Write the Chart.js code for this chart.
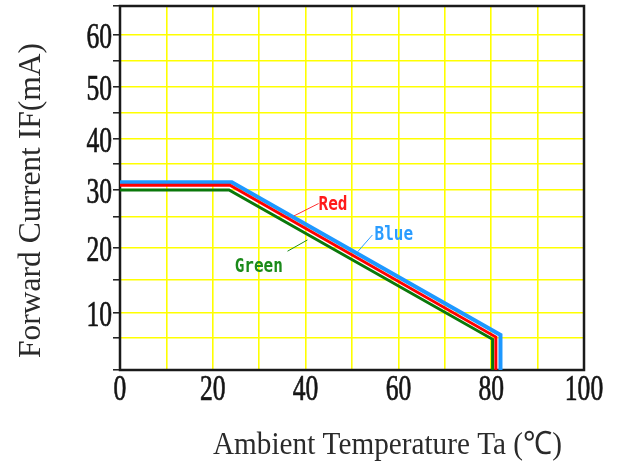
<!DOCTYPE html>
<html>
<head>
<meta charset="utf-8">
<script src="https://cdn.jsdelivr.net/npm/chart.js@4/dist/chart.umd.min.js"></script>
<style>
  html, body { margin: 0; padding: 0; background: #ffffff; }
  #wrap { width: 619px; height: 466px; position: relative; }
</style>
</head>
<body>
<div id="wrap"><canvas id="c" width="619" height="466"></canvas></div>
<script>
// ---------------- DATA ----------------
const xTickValues = [0, 20, 40, 60, 80, 100];
const yTickValues = [10, 20, 30, 40, 50, 60];

const seriesNames = ['Red', 'Blue', 'Green'];

const tempRed = [0, 23.7, 81.0, 81.0];
const currentRed = [30.9, 30.9, 5.2, 0];

const tempBlue = [0, 24.1, 82.0, 82.0];
const currentBlue = [31.5, 31.5, 5.6, 0];

const tempGreen = [0, 23.5, 80.3, 80.3];
const currentGreen = [30, 30, 4.8, 0];

// printed (non-uniform) y grid of the datasheet: grid values and relative spacing between them
const yGridValues = [0, 5, 10, 15, 20, 25, 30, 35, 40, 45, 50, 55, 60, 65];
const yGridSpans = [32, 25, 33, 32, 31, 27, 26, 25, 26, 26, 26, 26, 29];

const xTitle = 'Ambient Temperature Ta (\u2103)';
const yTitle = 'Forward Current IF(mA)';

// ---------------- custom piecewise-linear scale ----------------
const spanTotal = yGridSpans.reduce((a, b) => a + b, 0);
const yGridFracs = [0];
yGridSpans.forEach((s, i) => yGridFracs.push(yGridFracs[i] + s / spanTotal));

class PiecewiseScale extends Chart.LinearScale {
  _frac(v) {
    const n = yGridValues.length;
    if (v <= yGridValues[0]) return yGridFracs[0] + (v - yGridValues[0]) / (yGridValues[1] - yGridValues[0]) * (yGridFracs[1] - yGridFracs[0]);
    for (let i = 1; i < n; i++) {
      if (v <= yGridValues[i]) {
        const t = (v - yGridValues[i - 1]) / (yGridValues[i] - yGridValues[i - 1]);
        return yGridFracs[i - 1] + t * (yGridFracs[i] - yGridFracs[i - 1]);
      }
    }
    const t = (v - yGridValues[n - 2]) / (yGridValues[n - 1] - yGridValues[n - 2]);
    return yGridFracs[n - 2] + t * (yGridFracs[n - 1] - yGridFracs[n - 2]);
  }
  _inv(f) {
    const n = yGridFracs.length;
    for (let i = 1; i < n; i++) {
      if (f <= yGridFracs[i] || i === n - 1) {
        const t = (f - yGridFracs[i - 1]) / (yGridFracs[i] - yGridFracs[i - 1]);
        return yGridValues[i - 1] + t * (yGridValues[i] - yGridValues[i - 1]);
      }
    }
    return yGridValues[n - 1];
  }
  getPixelForValue(value) {
    if (value === null || value === undefined || isNaN(value)) return NaN;
    return this.getPixelForDecimal(this._frac(value));
  }
  getValueForPixel(pixel) {
    return this._inv(this.getDecimalForPixel(pixel));
  }
}
PiecewiseScale.id = 'piecewise';
PiecewiseScale.defaults = Chart.LinearScale.defaults;
Chart.register(PiecewiseScale);

const toPoints = (xs, ys) => xs.map((x, i) => ({ x: x, y: ys[i] }));

// ---------------- annotations (in data units) ----------------
const labelNotes = [
  { text: 'Red',   color: '#ff1a1a', at: [45.9, 26.3], lead: [[37.5, 25.2], [42.8, 27.5]], leadColor: '#ff3030' },
  { text: 'Blue',  color: '#2a9cff', at: [59.0, 21.3], lead: [[51.2, 19.4], [54.4, 22.1]], leadColor: '#2a9cff' },
  { text: 'Green', color: '#1a8a1a', at: [29.9, 16.3], lead: [[36.1, 19.5], [40.4, 21.3]], leadColor: '#1a8a1a' }
];

function condensedText(ctx, text, x, y, sx, align, rotate, strokeW) {
  ctx.save();
  ctx.translate(x, y);
  if (rotate) ctx.rotate(rotate);
  ctx.scale(sx, 1);
  ctx.textAlign = align;
  ctx.textBaseline = 'alphabetic';
  ctx.fillText(text, 0, 0);
  if (strokeW) {
    ctx.lineWidth = strokeW;
    ctx.strokeStyle = ctx.fillStyle;
    ctx.strokeText(text, 0, 0);
  }
  ctx.restore();
}

const framePlugin = {
  id: 'frame',
  beforeDatasetsDraw(chart) {
    const { ctx, chartArea: a } = chart;
    ctx.save();
    ctx.strokeStyle = '#1a1a1a';
    ctx.lineWidth = 2.5;
    ctx.strokeRect(a.left, a.top, a.right - a.left, a.bottom - a.top);
    ctx.restore();
  },
  afterDraw(chart) {
    const { ctx, chartArea: a } = chart;
    const xs = chart.scales.x, ys = chart.scales.y;
    ctx.save();
    // y tick labels
    ctx.fillStyle = '#151515';
    ctx.font = '35px "Liberation Serif", "Times New Roman", serif';
    yTickValues.forEach(v => {
      condensedText(ctx, String(v), a.left - 8, ys.getPixelForValue(v) + 12.5, 0.73, 'right', 0, 0.7);
    });
    // x tick labels
    xTickValues.forEach(v => {
      condensedText(ctx, String(v), xs.getPixelForValue(v), a.bottom + 29.5, 0.73, 'center', 0, 0.7);
    });
    // axis titles
    ctx.fillStyle = '#2a2a2a';
    ctx.font = '32px "Liberation Serif", "Times New Roman", serif';
    let w = ctx.measureText(xTitle).width;
    condensedText(ctx, xTitle, 387.5, a.bottom + 84, 349 / w, 'center');
    w = ctx.measureText(yTitle).width;
    condensedText(ctx, yTitle, 40, (a.top + a.bottom) / 2 + 12.5, 315 / w, 'center', -Math.PI / 2);
    // series labels with leader lines
    labelNotes.forEach(n => {
      ctx.strokeStyle = n.leadColor;
      ctx.lineWidth = 1;
      ctx.beginPath();
      ctx.moveTo(xs.getPixelForValue(n.lead[0][0]), ys.getPixelForValue(n.lead[0][1]));
      ctx.lineTo(xs.getPixelForValue(n.lead[1][0]), ys.getPixelForValue(n.lead[1][1]));
      ctx.stroke();
      ctx.fillStyle = n.color;
      ctx.font = 'bold 20px "DejaVu Sans Mono", monospace';
      condensedText(ctx, n.text, xs.getPixelForValue(n.at[0]), ys.getPixelForValue(n.at[1]), 0.8, 'center');
    });
    ctx.restore();
  }
};

const yellow = '#ffff00';

new Chart(document.getElementById('c'), {
  type: 'line',
  data: {
    datasets: [
      { label: seriesNames[0], data: toPoints(tempRed, currentRed), borderColor: '#ff0000', borderWidth: 3 },
      { label: seriesNames[1], data: toPoints(tempBlue, currentBlue), borderColor: '#1e98ff', borderWidth: 4 },
      { label: seriesNames[2], data: toPoints(tempGreen, currentGreen), borderColor: '#0a780a', borderWidth: 3 }
    ]
  },
  options: {
    responsive: false,
    animation: false,
    parsing: true,
    elements: {
      point: { radius: 0 },
      line: { tension: 0, fill: false, borderJoinStyle: 'miter', borderCapStyle: 'butt' }
    },
    layout: { padding: { top: 6, right: 35, left: 0, bottom: 0 } },
    plugins: { legend: { display: false }, tooltip: { enabled: false }, title: { display: false } },
    scales: {
      x: {
        type: 'linear', min: 0, max: 100,
        ticks: { display: false, stepSize: 10 },
        grid: { color: yellow, lineWidth: 1.6, drawTicks: false },
        border: { display: false },
        afterFit(scale) { scale.height = 96; }
      },
      y: {
        type: 'piecewise', min: 0, max: 65,
        ticks: { display: false, stepSize: 5 },
        grid: {
          color: ctx => (ctx.tick && ctx.tick.value > 0 && ctx.tick.value < 65) ? yellow : 'rgba(0,0,0,0)',
          lineWidth: 1.6, drawTicks: true, tickLength: 7, tickColor: '#1a1a1a', tickWidth: 1.5
        },
        border: { display: false },
        afterFit(scale) { scale.height; scale.width = 120; }
      }
    }
  },
  plugins: [framePlugin]
});
</script>
</body>
</html>
